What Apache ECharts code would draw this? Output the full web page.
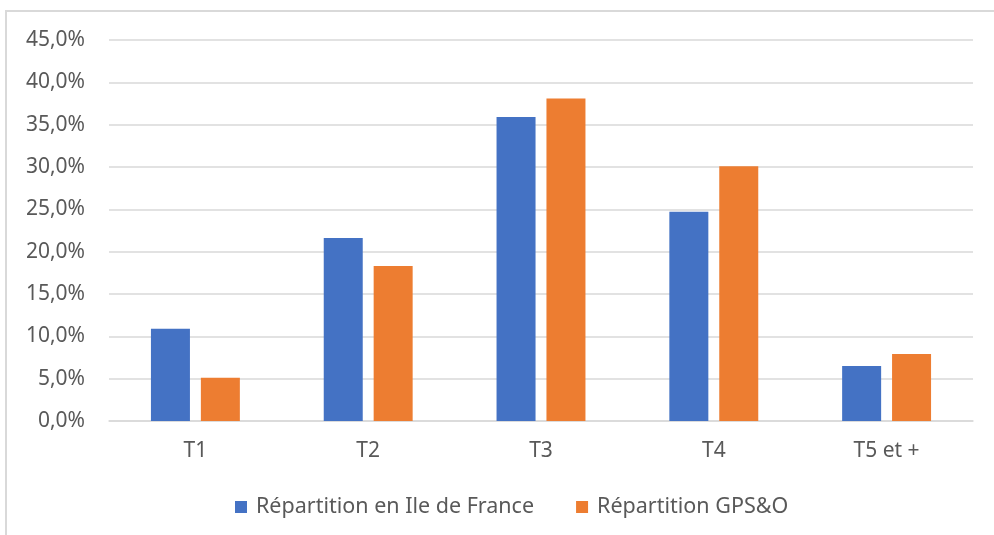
<!DOCTYPE html>
<html>
<head>
<meta charset="utf-8">
<script src="https://cdn.jsdelivr.net/npm/echarts@6/dist/echarts.min.js"></script>
<style>
html,body{margin:0;padding:0;background:#fff;}
#frame{position:absolute;left:5px;top:10px;width:989px;height:525px;border-left:2px solid #d9d9d9;border-top:2px solid #d9d9d9;box-sizing:border-box;}
#chart{position:absolute;left:0;top:0;width:994px;height:535px;}
</style>
</head>
<body>
<div id="frame"></div>
<div id="chart"></div>
<script>
const categories = ['T1', 'T2', 'T3', 'T4', 'T5 et +'];
const seriesNames = ['Répartition en Ile de France', 'Répartition GPS&O'];
const idfValues = [10.9, 21.6, 35.9, 24.7, 6.5];
const gpsoValues = [5.1, 18.3, 38.1, 30.1, 7.9];
const yTicks = [0, 5, 10, 15, 20, 25, 30, 35, 40, 45];

const chart = echarts.init(document.getElementById('chart'), null, {renderer: 'canvas'});
const font = 'Noto Sans';
chart.setOption({
  animation: false,
  backgroundColor: 'transparent',
  grid: {left: 109, right: 21, top: 40, bottom: 114, containLabel: false},
  legend: {
    top: 496,
    left: 235,
    padding: 0,
    itemWidth: 12,
    itemHeight: 12,
    itemGap: 42,
    icon: 'rect',
    textStyle: {color: '#595959', fontSize: 21.5, fontFamily: font, padding: [0, 0, 0, 4]},
    data: seriesNames
  },
  xAxis: {
    type: 'category',
    data: categories,
    axisTick: {show: false},
    axisLine: {lineStyle: {color: '#d9d9d9', width: 1.5}},
    axisLabel: {color: '#595959', fontSize: 21, fontFamily: font, margin: 20}
  },
  yAxis: {
    type: 'value',
    min: yTicks[0],
    max: yTicks[yTicks.length - 1],
    interval: 5,
    axisLine: {show: false},
    axisTick: {show: false},
    splitLine: {lineStyle: {color: '#d9d9d9', width: 1.5}},
    axisLabel: {
      color: '#595959', fontSize: 21, fontFamily: font, margin: 24,
      formatter: v => v.toFixed(1).replace('.', ',') + '%'
    }
  },
  series: [
    {name: seriesNames[0], type: 'bar', data: idfValues, barWidth: 39, barGap: '28%', itemStyle: {color: '#4472C4'}},
    {name: seriesNames[1], type: 'bar', data: gpsoValues, barWidth: 39, barGap: '28%', itemStyle: {color: '#ED7D31'}}
  ]
});
</script>
</body>
</html>
